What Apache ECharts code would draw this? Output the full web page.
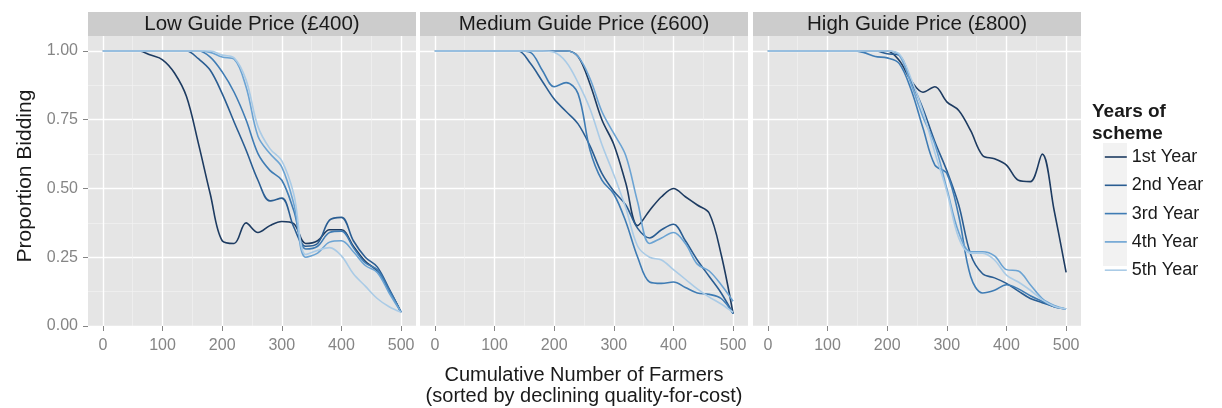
<!DOCTYPE html>
<html>
<head>
<meta charset="utf-8">
<script src="https://cdn.jsdelivr.net/npm/echarts@6/dist/echarts.min.js"></script>
<style>
  html, body { margin: 0; padding: 0; background: #fff; }
  #chart { width: 1222px; height: 408px; }
</style>
</head>
<body>
<div id="chart"></div>
<script>
// x positions (cumulative number of farmers) shared by every curve
const farmers = [0, 20, 40, 60, 80, 100, 120, 140, 160, 180, 200, 220, 240, 260, 280, 300, 320, 340, 360, 380, 400, 420, 440, 460, 480, 500];

const years = ['1st Year', '2nd Year', '3rd Year', '4th Year', '5th Year'];
const panelTitles = ['Low Guide Price (£400)', 'Medium Guide Price (£600)', 'High Guide Price (£800)'];

const xTicks = [0, 100, 200, 300, 400, 500];
const xMinorTicks = [50, 150, 250, 350, 450];
const yTicks = [0, 0.25, 0.5, 0.75, 1];
const yMinorTicks = [0.125, 0.375, 0.625, 0.875];

// Low guide price (£400)
const low1 = [1, 1, 1, 1, 0.985, 0.968, 0.92, 0.835, 0.665, 0.48, 0.31, 0.30, 0.375, 0.34, 0.365, 0.38, 0.372, 0.30, 0.31, 0.35, 0.35, 0.29, 0.235, 0.20, 0.13, 0.05];
const low2 = [1, 1, 1, 1, 1, 1, 1, 1, 0.972, 0.93, 0.845, 0.742, 0.64, 0.53, 0.455, 0.465, 0.36, 0.29, 0.30, 0.385, 0.395, 0.31, 0.25, 0.215, 0.135, 0.05];
const low3 = [1, 1, 1, 1, 1, 1, 1, 1, 1, 0.978, 0.924, 0.85, 0.75, 0.627, 0.566, 0.53, 0.42, 0.28, 0.29, 0.34, 0.345, 0.285, 0.23, 0.205, 0.13, 0.05];
const low4 = [1, 1, 1, 1, 1, 1, 1, 1, 1, 0.995, 0.978, 0.97, 0.87, 0.69, 0.627, 0.578, 0.445, 0.25, 0.265, 0.305, 0.31, 0.27, 0.22, 0.195, 0.12, 0.05];
const low5 = [1, 1, 1, 1, 1, 1, 1, 1, 1, 1, 0.985, 0.975, 0.895, 0.725, 0.645, 0.60, 0.48, 0.26, 0.275, 0.285, 0.255, 0.19, 0.145, 0.10, 0.07, 0.05];

// Medium guide price (£600)
const med1 = [1, 1, 1, 1, 1, 1, 1, 1, 1, 1, 1, 1, 0.98, 0.88, 0.75, 0.66, 0.52, 0.365, 0.42, 0.47, 0.50, 0.47, 0.44, 0.41, 0.26, 0.045];
const med2 = [1, 1, 1, 1, 1, 1, 1, 1, 0.955, 0.89, 0.825, 0.78, 0.735, 0.655, 0.555, 0.49, 0.44, 0.355, 0.32, 0.35, 0.37, 0.31, 0.24, 0.18, 0.12, 0.045];
const med3 = [1, 1, 1, 1, 1, 1, 1, 1, 0.995, 0.93, 0.87, 0.885, 0.845, 0.64, 0.53, 0.48, 0.38, 0.25, 0.16, 0.155, 0.16, 0.14, 0.12, 0.115, 0.10, 0.045];
const med4 = [1, 1, 1, 1, 1, 1, 1, 1, 1, 1, 1, 1, 0.98, 0.90, 0.78, 0.70, 0.62, 0.45, 0.30, 0.32, 0.34, 0.30, 0.225, 0.20, 0.15, 0.09];
const med5 = [1, 1, 1, 1, 1, 1, 1, 1, 1, 1, 0.995, 0.96, 0.885, 0.79, 0.66, 0.55, 0.43, 0.29, 0.25, 0.24, 0.205, 0.17, 0.135, 0.105, 0.08, 0.05];

// High guide price (£800)
const high1 = [1, 1, 1, 1, 1, 1, 1, 1, 1, 1, 1, 0.966, 0.893, 0.85, 0.87, 0.815, 0.784, 0.71, 0.62, 0.608, 0.585, 0.53, 0.525, 0.625, 0.42, 0.195];
const high2 = [1, 1, 1, 1, 1, 1, 1, 1, 1, 1, 0.99, 0.985, 0.89, 0.79, 0.67, 0.565, 0.44, 0.26, 0.19, 0.175, 0.155, 0.127, 0.10, 0.085, 0.07, 0.062];
const high3 = [1, 1, 1, 1, 1, 1, 1, 1, 0.995, 0.98, 0.975, 0.955, 0.86, 0.72, 0.585, 0.555, 0.40, 0.18, 0.12, 0.13, 0.15, 0.135, 0.11, 0.09, 0.07, 0.062];
const high4 = [1, 1, 1, 1, 1, 1, 1, 1, 1, 1, 1, 0.985, 0.88, 0.76, 0.66, 0.50, 0.34, 0.27, 0.27, 0.255, 0.205, 0.20, 0.15, 0.10, 0.075, 0.062];
const high5 = [1, 1, 1, 1, 1, 1, 1, 1, 1, 1, 1, 0.99, 0.90, 0.78, 0.63, 0.49, 0.32, 0.265, 0.265, 0.24, 0.185, 0.16, 0.13, 0.095, 0.072, 0.062];

const panelData = [
  [low1, low2, low3, low4, low5],
  [med1, med2, med3, med4, med5],
  [high1, high2, high3, high4, high5],
];

const yearColors = ['#1d3b61', '#2a5d92', '#3f7cb4', '#6ba3d3', '#aacbe6'];
const font = '"Liberation Sans", Arial, sans-serif';
const tickGrey = '#858585';
const panelLeft = [88, 420, 753];
const panelWidth = 328;
const panelTop = 36;
const panelHeight = 290;

const chart = echarts.init(document.getElementById('chart'));

const grid = [];
const xAxis = [];
const yAxis = [];
const series = [];
const graphic = [];

panelLeft.forEach((left, p) => {
  grid.push({
    left: left,
    top: panelTop,
    width: panelWidth,
    height: panelHeight,
    show: true,
    backgroundColor: '#E5E5E5',
    borderWidth: 0,
    containLabel: false,
  });
  // minor grid lines
  xAxis.push({
    type: 'value', gridIndex: p, min: -25, max: 525, position: 'bottom',
    axisLine: { show: false, onZero: false },
    axisTick: { show: false, customValues: xMinorTicks },
    axisLabel: { show: false },
    splitLine: { show: true, lineStyle: { color: '#F2F2F2', width: 0.7 } },
  });
  // major grid lines, ticks and labels
  xAxis.push({
    type: 'value', gridIndex: p, min: -25, max: 525, position: 'bottom',
    axisLine: { show: false, onZero: false },
    axisTick: { show: true, length: 5, customValues: xTicks, lineStyle: { color: tickGrey } },
    axisLabel: { customValues: xTicks, color: tickGrey, fontSize: 16, margin: 12, fontFamily: font },
    splitLine: { show: true, lineStyle: { color: '#FFFFFF', width: 1.4 } },
  });
  yAxis.push({
    type: 'value', gridIndex: p, min: 0, max: 1.0545, position: 'left',
    axisLine: { show: false, onZero: false },
    axisTick: { show: false, customValues: yMinorTicks },
    axisLabel: { show: false },
    splitLine: { show: true, lineStyle: { color: '#F2F2F2', width: 0.7 } },
  });
  yAxis.push({
    type: 'value', gridIndex: p, min: 0, max: 1.0545, position: 'left',
    axisLine: { show: false, onZero: false },
    axisTick: { show: p === 0, length: 5, customValues: yTicks, lineStyle: { color: tickGrey } },
    axisLabel: {
      show: p === 0, customValues: yTicks, color: tickGrey, fontSize: 16, margin: 10, fontFamily: font,
      formatter: (v) => v.toFixed(2),
    },
    splitLine: { show: true, lineStyle: { color: '#FFFFFF', width: 1.4 } },
  });

  panelData[p].forEach((vals, s) => {
    series.push({
      name: years[s],
      type: 'line',
      xAxisIndex: p * 2 + 1,
      yAxisIndex: p * 2 + 1,
      data: farmers.map((x, k) => [x, vals[k]]),
      smooth: 0.35,
      symbol: 'none',
      color: yearColors[s],
      lineStyle: { width: 1.6, color: yearColors[s] },
      animation: false,
    });
  });

  // facet strip
  graphic.push({
    type: 'rect',
    shape: { x: left, y: 12, width: panelWidth, height: 24 },
    style: { fill: '#CCCCCC' },
  });
  graphic.push({
    type: 'text',
    x: left + panelWidth / 2,
    y: 24,
    style: {
      text: panelTitles[p], align: 'center', verticalAlign: 'middle',
      font: '20.5px ' + font, fill: '#1a1a1a',
    },
  });
});

// axis titles
graphic.push({
  type: 'text', x: 25, y: 176, rotation: Math.PI / 2,
  style: { text: 'Proportion Bidding', align: 'center', verticalAlign: 'middle', font: '21px ' + font, fill: '#1a1a1a' },
});
graphic.push({
  type: 'text', x: 584, y: 375,
  style: { text: 'Cumulative Number of Farmers', align: 'center', verticalAlign: 'middle', font: '20px ' + font, fill: '#1a1a1a' },
});
graphic.push({
  type: 'text', x: 584, y: 396,
  style: { text: '(sorted by declining quality-for-cost)', align: 'center', verticalAlign: 'middle', font: '20px ' + font, fill: '#1a1a1a' },
});

// legend title and key background
graphic.push({
  type: 'text', x: 1092, y: 112,
  style: { text: 'Years of', align: 'left', verticalAlign: 'middle', font: 'bold 19px ' + font, fill: '#1a1a1a' },
});
graphic.push({
  type: 'text', x: 1092, y: 134,
  style: { text: 'scheme', align: 'left', verticalAlign: 'middle', font: 'bold 19px ' + font, fill: '#1a1a1a' },
});
graphic.push({
  type: 'rect', z: -1,
  shape: { x: 1103, y: 143, width: 24, height: 123 },
  style: { fill: '#F2F2F2' },
});

chart.setOption({
  animation: false,
  backgroundColor: '#FFFFFF',
  grid: grid,
  xAxis: xAxis,
  yAxis: yAxis,
  series: series,
  graphic: graphic,
  legend: {
    data: years,
    orient: 'vertical',
    left: 1104,
    top: 148,
    padding: 0,
    itemWidth: 22,
    itemHeight: 14,
    itemGap: 10.3,
    itemStyle: { opacity: 0 },
    lineStyle: { width: 1.6 },
    textStyle: { fontSize: 18, color: '#1a1a1a', fontFamily: font },
  },
});
</script>
</body>
</html>
